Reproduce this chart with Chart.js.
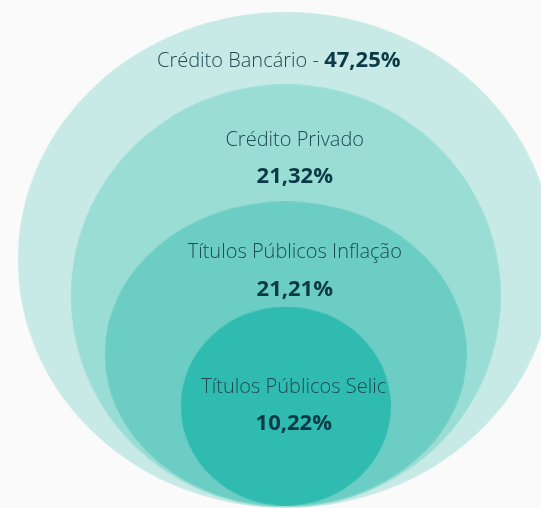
<!DOCTYPE html>
<html>
<head>
<meta charset="utf-8">
<script src="https://cdn.jsdelivr.net/npm/chart.js@4"></script>
<style>
  html, body { margin: 0; padding: 0; background: #fafafa; }
  canvas { display: block; }
</style>
</head>
<body>
<canvas id="rings" width="541" height="508"></canvas>
<script>
const labels = ['Crédito Bancário', 'Crédito Privado', 'Títulos Públicos Inflação', 'Títulos Públicos Selic']
const values = [47.25, 21.32, 21.21, 10.22]

// ring look: half width / half height in px, fill colour
const ringW = [268, 215, 181, 105]
const ringH = [248, 211.5, 152.5, 99.5]
const ringColors = ['#c7eae6', '#9addd5', '#6bcdc3', '#2fbbaf']
// text placement relative to each ring centre
const labelDy = [-199, -155.5, -101.5, -18.5]
const valueDy = [null, -119.5, -64.5, 17.5]
const textDx = [-7, 9, 9, 8]
const centerX = 286

const labelFont = '300 20px "Open Sans"'
const valueFont = 'bold 22px "Open Sans"'

function ellipseSprite(w, h, color) {
  const c = document.createElement('canvas')
  c.width = w * 2
  c.height = h * 2
  const g = c.getContext('2d')
  g.fillStyle = color
  g.beginPath()
  g.ellipse(w, h, w, h, 0, 0, Math.PI * 2)
  g.fill()
  return c
}
const sprites = ringW.map((w, i) => ellipseSprite(w, ringH[i], ringColors[i]))

const fmt = v => v.toLocaleString('pt-BR', { minimumFractionDigits: 2 }) + '%'

const ringText = {
  id: 'ringText',
  afterDatasetsDraw(chart) {
    const ctx = chart.ctx
    const pts = chart.getDatasetMeta(0).data
    ctx.save()
    ctx.textBaseline = 'middle'
    pts.forEach((p, i) => {
      const x = p.x + textDx[i]
      if (valueDy[i] === null) {
        const a = labels[i] + ' - '
        const b = fmt(values[i])
        ctx.font = labelFont
        const wa = ctx.measureText(a).width
        ctx.font = valueFont
        const wb = ctx.measureText(b).width
        const x0 = x - (wa + wb) / 2
        ctx.textAlign = 'left'
        ctx.font = labelFont
        ctx.fillStyle = '#1e4a52'
        ctx.fillText(a, x0, p.y + labelDy[i])
        ctx.font = valueFont
        ctx.fillStyle = '#0b3945'
        ctx.fillText(b, x0 + wa, p.y + labelDy[i])
      } else {
        ctx.textAlign = 'center'
        ctx.font = labelFont
        ctx.fillStyle = '#1e4a52'
        ctx.fillText(labels[i], x, p.y + labelDy[i])
        ctx.font = valueFont
        ctx.fillStyle = '#0b3945'
        ctx.fillText(fmt(values[i]), x, p.y + valueDy[i])
      }
    })
    ctx.restore()
  }
}

new Chart(document.getElementById('rings'), {
  type: 'bubble',
  data: {
    labels: labels,
    datasets: [{
      // r is tiny on purpose: the sprite gives the size, and a big r would shrink the chart area
      data: values.map((v, i) => ({ x: centerX, y: ringH[i], r: 0.2 })),
      pointStyle: ctx => sprites[ctx.dataIndex],
      backgroundColor: ringColors,
      borderWidth: 0,
      clip: false
    }]
  },
  options: {
    responsive: false,
    devicePixelRatio: 1,
    animation: false,
    layout: { padding: 0 },
    plugins: { legend: { display: false }, tooltip: { enabled: false } },
    scales: {
      x: { type: 'linear', min: 0, max: 541, display: false },
      y: { type: 'linear', min: 0, max: 508, display: false }
    }
  },
  plugins: [ringText]
})
</script>
</body>
</html>
